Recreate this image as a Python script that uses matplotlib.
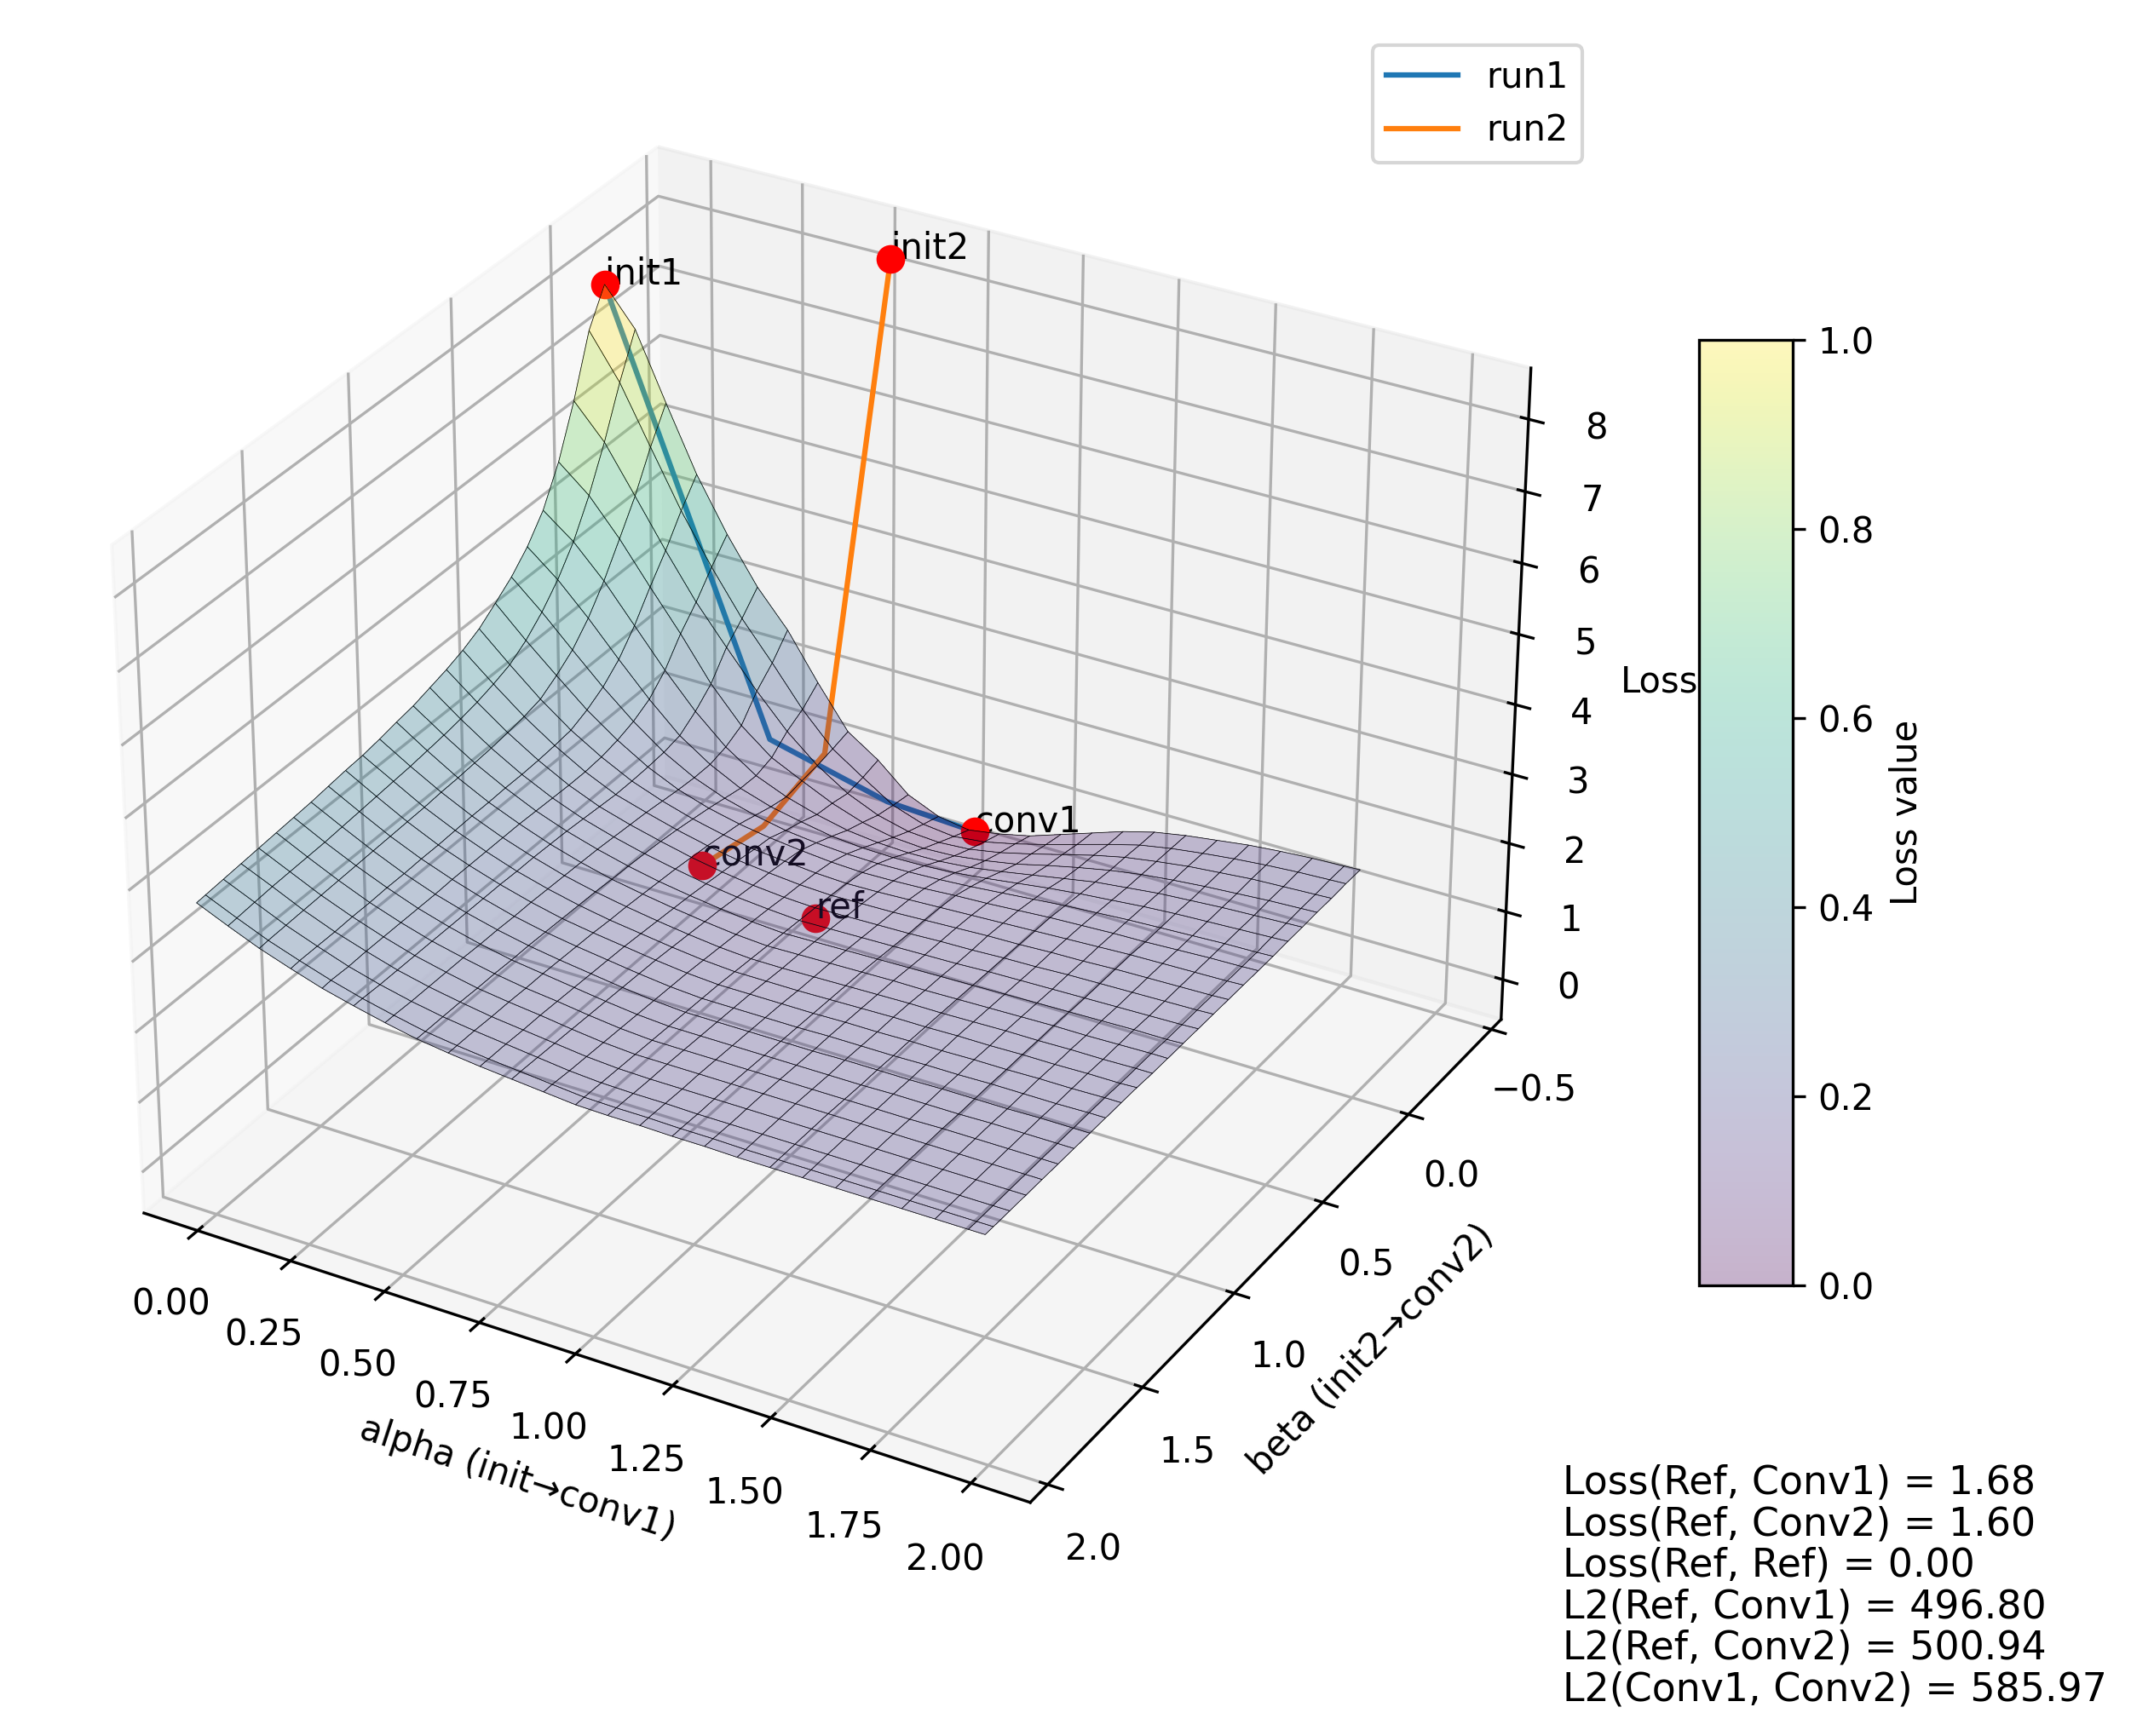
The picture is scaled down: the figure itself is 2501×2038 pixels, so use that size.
import numpy as np
import matplotlib
matplotlib.use('Agg')
import matplotlib.pyplot as plt
from matplotlib import cm
from matplotlib.ticker import MultipleLocator

# grid lines of the surface, every second sample of 50 plus the last one
alphas = np.r_[np.linspace(0, 2, 50)[::2], 2]
betas = np.r_[np.linspace(0, 2.03, 50)[::2], 2.03]
# loss, rows are beta, columns are alpha
loss = np.array([
 [8.07,7.55,6.62,5.72,4.98,4.34,3.84,3.20,2.61,2.32,1.94,1.75,1.68,1.75,1.85,2.00,2.15,2.30,2.42,2.50,2.56,2.62,2.66,2.69,2.71,2.72],
 [7.59,6.97,6.17,5.38,4.69,4.07,3.55,3.00,2.55,2.26,1.98,1.83,1.78,1.83,1.93,2.05,2.18,2.31,2.43,2.51,2.57,2.62,2.66,2.69,2.71,2.72],
 [6.77,6.30,5.65,4.99,4.37,3.84,3.33,2.87,2.50,2.22,2.03,1.92,1.89,1.92,2.00,2.11,2.23,2.35,2.45,2.52,2.58,2.62,2.66,2.68,2.70,2.71],
 [6.08,5.72,5.22,4.65,4.10,3.50,3.02,2.68,2.47,2.27,2.12,2.03,2.00,2.02,2.08,2.16,2.27,2.37,2.46,2.53,2.58,2.62,2.65,2.68,2.70,2.71],
 [5.57,5.24,4.80,4.28,3.76,3.29,2.90,2.61,2.43,2.30,2.20,2.15,2.13,2.14,2.18,2.25,2.33,2.41,2.49,2.54,2.59,2.62,2.65,2.67,2.69,2.70],
 [5.23,4.88,4.45,3.98,3.53,3.13,2.84,2.62,2.48,2.39,2.31,2.27,2.26,2.27,2.30,2.35,2.41,2.47,2.52,2.56,2.60,2.63,2.65,2.67,2.69,2.70],
 [4.98,4.60,4.18,3.77,3.40,3.08,2.84,2.67,2.55,2.46,2.41,2.38,2.37,2.38,2.40,2.43,2.47,2.51,2.55,2.58,2.61,2.63,2.65,2.67,2.68,2.69],
 [4.79,4.38,4.00,3.63,3.32,3.06,2.86,2.72,2.62,2.55,2.50,2.46,2.44,2.45,2.47,2.50,2.52,2.55,2.58,2.60,2.62,2.63,2.65,2.67,2.68,2.69],
 [4.61,4.22,3.85,3.53,3.27,3.05,2.89,2.76,2.66,2.58,2.54,2.50,2.48,2.49,2.51,2.53,2.55,2.57,2.59,2.61,2.63,2.65,2.66,2.67,2.68,2.69],
 [4.49,4.13,3.79,3.50,3.25,3.05,2.92,2.80,2.70,2.62,2.57,2.53,2.51,2.52,2.53,2.55,2.57,2.59,2.60,2.62,2.63,2.65,2.66,2.67,2.68,2.69],
 [4.40,4.06,3.75,3.48,3.25,3.07,2.94,2.83,2.73,2.65,2.59,2.55,2.53,2.54,2.55,2.56,2.58,2.59,2.61,2.62,2.64,2.65,2.66,2.67,2.68,2.69],
 [4.33,4.01,3.72,3.47,3.26,3.09,2.96,2.85,2.76,2.68,2.62,2.58,2.55,2.56,2.57,2.58,2.59,2.60,2.62,2.63,2.64,2.65,2.66,2.67,2.68,2.69],
 [4.26,3.97,3.70,3.47,3.27,3.11,2.98,2.87,2.78,2.71,2.65,2.60,2.57,2.58,2.59,2.60,2.61,2.62,2.63,2.64,2.65,2.66,2.67,2.68,2.68,2.69],
 [4.22,3.94,3.68,3.46,3.28,3.12,2.99,2.88,2.80,2.73,2.67,2.62,2.59,2.60,2.61,2.62,2.63,2.63,2.64,2.65,2.66,2.67,2.67,2.68,2.69,2.69],
 [4.17,3.91,3.67,3.46,3.28,3.13,3.00,2.90,2.82,2.75,2.69,2.64,2.61,2.61,2.62,2.63,2.64,2.65,2.65,2.66,2.67,2.67,2.68,2.68,2.69,2.69],
 [4.13,3.89,3.65,3.45,3.28,3.13,3.01,2.91,2.83,2.77,2.71,2.66,2.63,2.63,2.63,2.64,2.65,2.66,2.66,2.67,2.67,2.68,2.68,2.69,2.69,2.70],
 [4.11,3.87,3.64,3.44,3.28,3.14,3.02,2.92,2.85,2.79,2.73,2.68,2.65,2.65,2.65,2.65,2.66,2.66,2.67,2.67,2.68,2.68,2.69,2.69,2.70,2.70],
 [4.08,3.85,3.63,3.44,3.28,3.14,3.02,2.93,2.86,2.80,2.74,2.69,2.66,2.66,2.66,2.66,2.67,2.67,2.67,2.68,2.68,2.69,2.69,2.69,2.70,2.70],
 [4.05,3.83,3.62,3.43,3.27,3.14,3.03,2.94,2.87,2.81,2.75,2.70,2.67,2.67,2.67,2.67,2.67,2.68,2.68,2.68,2.69,2.69,2.69,2.70,2.70,2.70],
 [4.03,3.81,3.61,3.43,3.27,3.14,3.03,2.94,2.88,2.82,2.76,2.71,2.68,2.68,2.68,2.68,2.68,2.68,2.68,2.69,2.69,2.69,2.70,2.70,2.70,2.70],
 [4.01,3.80,3.60,3.42,3.27,3.14,3.04,2.95,2.88,2.83,2.77,2.72,2.69,2.69,2.69,2.69,2.69,2.69,2.69,2.69,2.69,2.70,2.70,2.70,2.70,2.70],
 [3.99,3.79,3.59,3.42,3.27,3.14,3.04,2.95,2.89,2.84,2.78,2.73,2.70,2.70,2.70,2.70,2.70,2.70,2.70,2.70,2.70,2.70,2.70,2.70,2.70,2.70],
 [3.97,3.78,3.58,3.41,3.27,3.14,3.04,2.96,2.89,2.84,2.79,2.74,2.71,2.70,2.70,2.70,2.70,2.70,2.70,2.70,2.70,2.70,2.70,2.70,2.70,2.70],
 [3.95,3.76,3.57,3.41,3.26,3.14,3.04,2.96,2.90,2.85,2.80,2.75,2.72,2.71,2.71,2.70,2.70,2.70,2.70,2.70,2.70,2.70,2.70,2.70,2.70,2.70],
 [3.93,3.74,3.56,3.41,3.27,3.15,3.05,2.96,2.90,2.85,2.81,2.77,2.73,2.72,2.72,2.71,2.71,2.70,2.70,2.70,2.70,2.70,2.70,2.70,2.70,2.70],
 [3.92,3.73,3.55,3.40,3.26,3.15,3.05,2.96,2.90,2.85,2.81,2.77,2.73,2.72,2.72,2.71,2.71,2.70,2.70,2.70,2.70,2.70,2.70,2.70,2.70,2.70]])
run1_a = [0, 0.44, 0.76, 0.995]
run1_b = [0, 0, 0, 0]
run1_z = [8.07, 2.17, 1.75, 1.68]
run2_a = [0.518, 0.64, 0.59, 0.51]
run2_b = [-0.5, 0.10, 0.33, 0.5]
run2_z = [8.11, 2.5, 1.9, 1.6]
names = ['init1', 'init2', 'conv1', 'conv2', 'ref']
pts_a = [0, 0.518, 0.995, 0.51, 0.61]
pts_b = [0, -0.5, 0, 0.5, 0.09]
pts_z = [8.07, 8.11, 1.68, 1.6, 0.0]
stats = ['Loss(Ref, Conv1) = 1.68', 'Loss(Ref, Conv2) = 1.60', 'Loss(Ref, Ref) = 0.00',
         'L2(Ref, Conv1) = 496.80', 'L2(Ref, Conv2) = 500.94', 'L2(Conv1, Conv2) = 585.97']

W, H = 2501, 2038
fig = plt.figure(figsize=(W / 300, H / 300), dpi=300)
ax = fig.add_axes([0.0116, 0.0772, 0.7405, 0.9086], projection='3d')
A, B = np.meshgrid(alphas, betas)
ax.plot_surface(A, B, loss, cmap='viridis', alpha=0.3, linewidth=0, antialiased=False, rstride=1, cstride=1)
ax.plot_wireframe(A, B, loss, color='k', linewidth=0.18, rstride=1, cstride=1)
ax.plot(run1_a, run1_b, run1_z, label='run1')
ax.plot(run2_a, run2_b, run2_z, label='run2')
for name, a, b, z in zip(names, pts_a, pts_b, pts_z):
    ax.scatter(a, b, z, color='red', s=50, depthshade=False)
    ax.text(a, b, z, name)
ax.set_ylim(2.09, -0.56)
ax.zaxis.set_major_locator(MultipleLocator(1))
ax.set_xlabel('alpha (init→conv1)')
ax.set_ylabel('beta (init2→conv2)')
ax.set_zlabel('Loss')
fig.legend(*ax.get_legend_handles_labels(), loc='upper left', bbox_to_anchor=(0.644, 0.974), borderaxespad=0)
cax = fig.add_axes([1994 / W, 1 - 1509 / H, 110 / W, 1110 / H])
sm = cm.ScalarMappable(cmap='viridis')
cb = fig.colorbar(sm, cax=cax)
cb.solids.set_alpha(0.3)
cb.set_label('Loss value')
fig.text(1834 / W, 0.0155, '\n'.join(stats), fontsize=11, va='bottom', linespacing=1.1)
fig.savefig('out.png', dpi=300)
